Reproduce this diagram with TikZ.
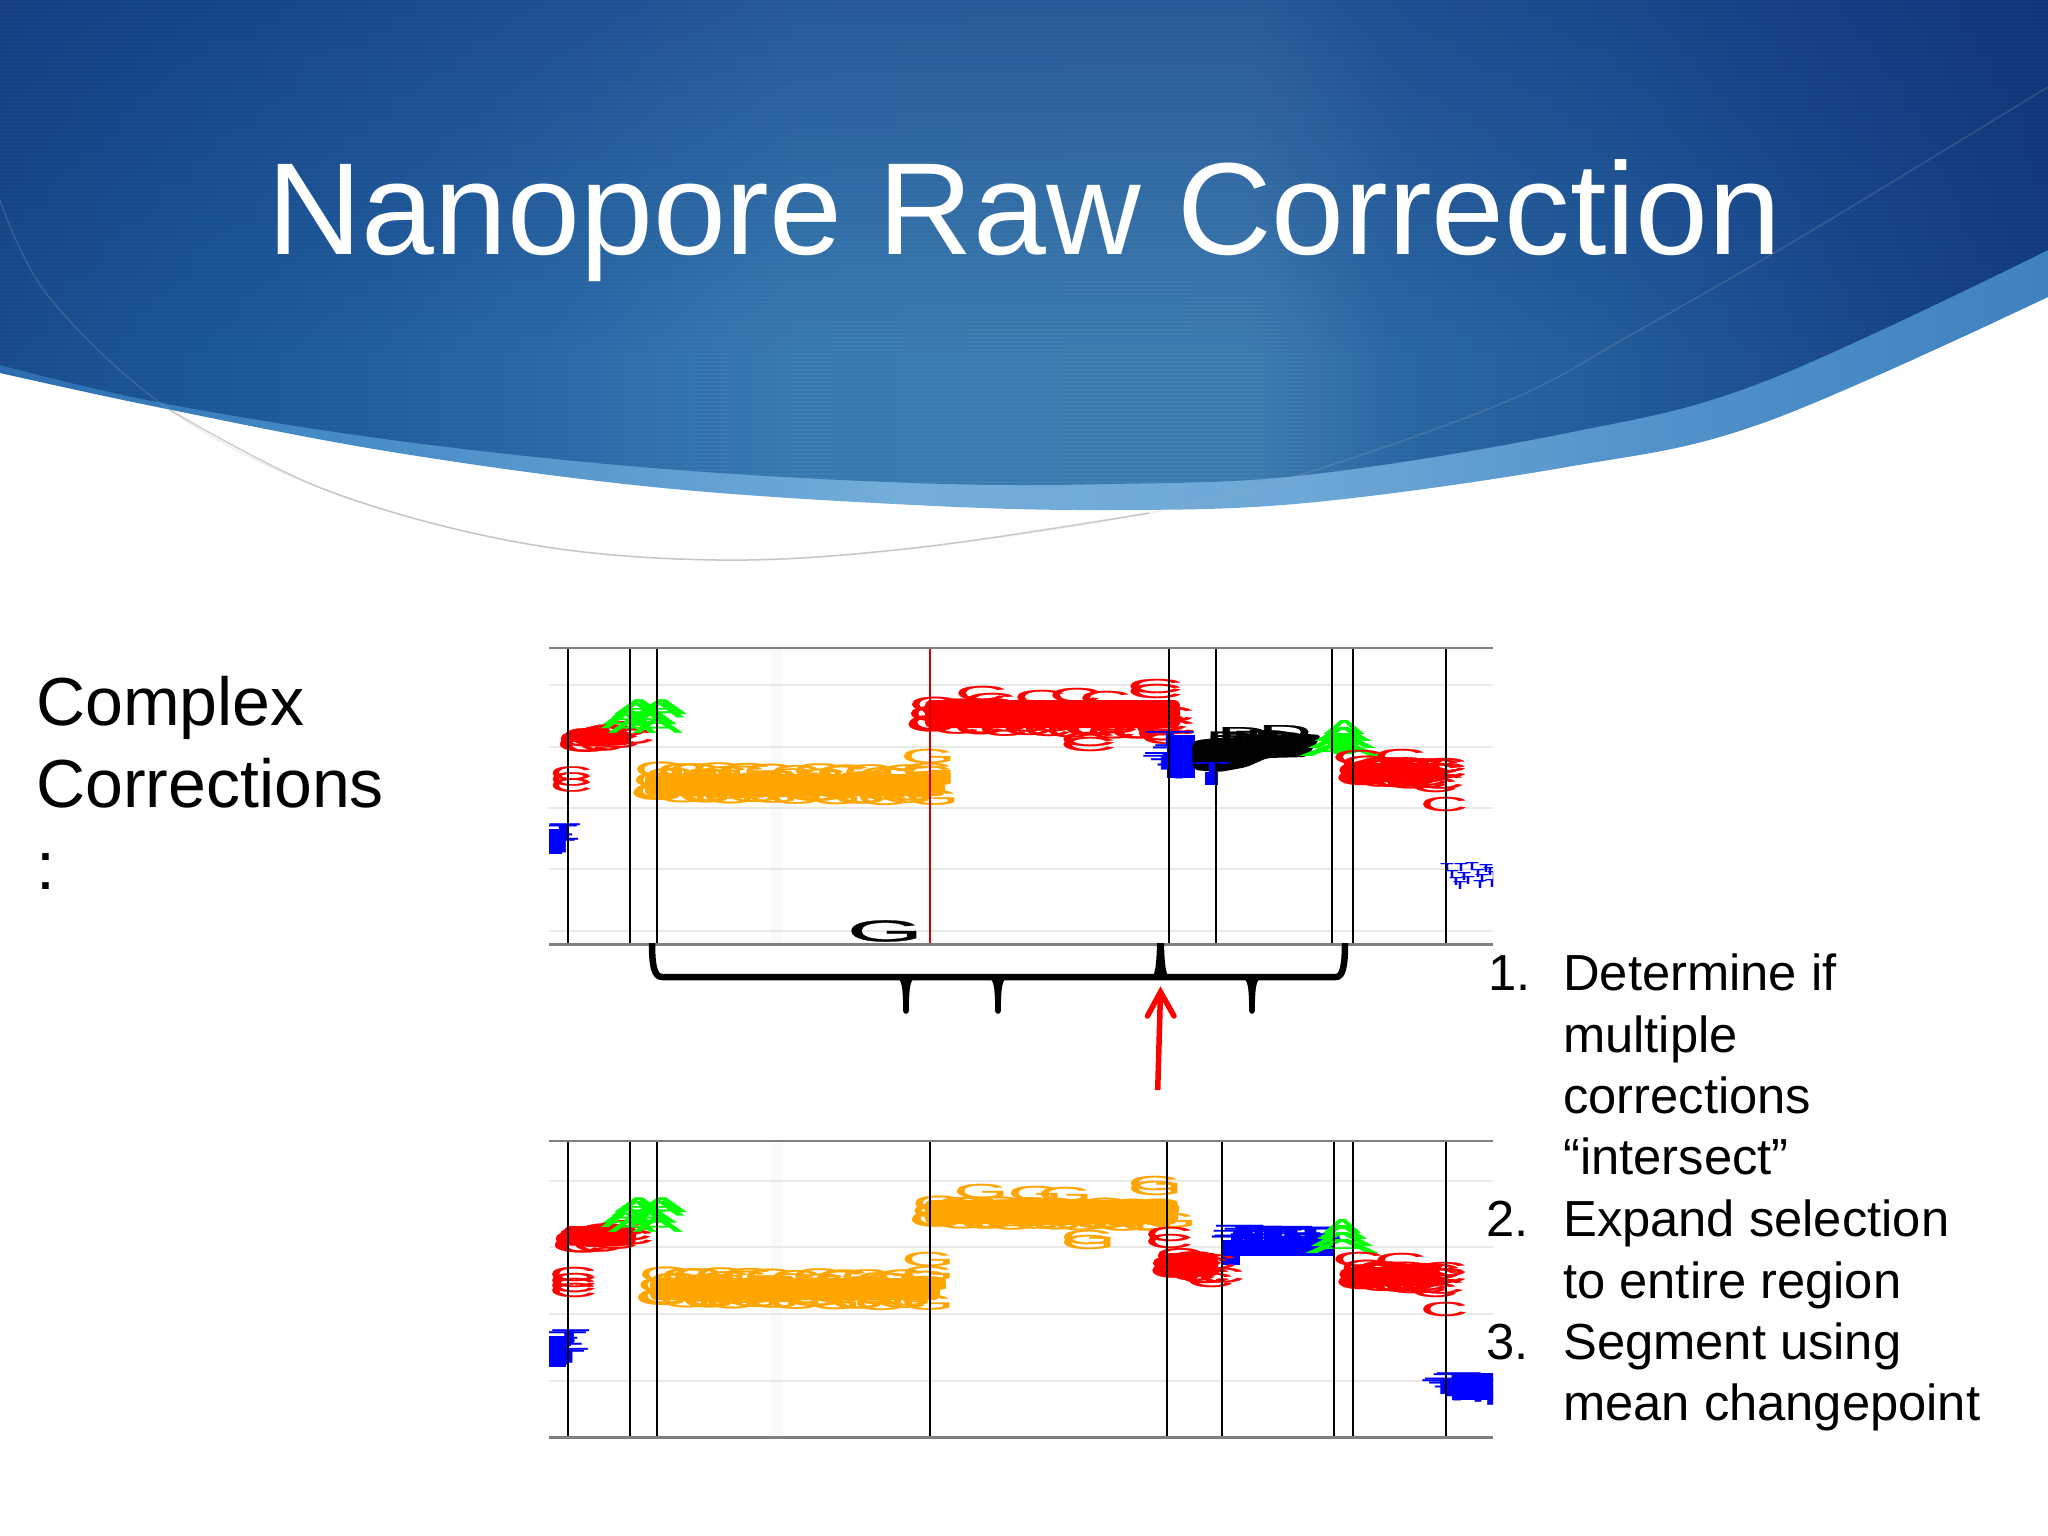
\documentclass[tikz,border=0pt]{standalone}
\usepackage{graphicx}
\usepackage{fontspec}
\setmainfont{Liberation Sans}
\font\mkfont="Liberation Sans:embolden=1.0" at 20pt
\definecolor{bA}{HTML}{1B4F8F}
\definecolor{bB}{HTML}{1D5A9C}
\definecolor{bC}{HTML}{2563A5}
\definecolor{bD}{HTML}{2F70AE}
\definecolor{bE}{HTML}{3B7FB6}
\definecolor{bF}{HTML}{3E80B5}
\definecolor{bG}{HTML}{4080B5}
\definecolor{bH}{HTML}{2D6AA8}
\definecolor{bI}{HTML}{24609F}
\definecolor{bJ}{HTML}{1D4F93}
\definecolor{bK}{HTML}{153F80}
\definecolor{lA}{HTML}{2A6CB0}
\definecolor{lB}{HTML}{4389C4}
\definecolor{lC}{HTML}{74ADD9}
\definecolor{lD}{HTML}{6EA8D6}
\definecolor{lE}{HTML}{4F90C9}
\definecolor{lF}{HTML}{3F82C0}
\definecolor{navyveil}{HTML}{10307A}
\definecolor{plotorange}{HTML}{FFA500}
\definecolor{plotgreen}{HTML}{00FF00}
\definecolor{plotblue}{HTML}{0000FF}
\definecolor{plotred}{HTML}{FF0000}
\definecolor{gridgrey}{HTML}{E8E8E8}
\definecolor{axisgrey}{HTML}{808080}
\definecolor{stripegrey}{HTML}{F9F9FC}
\pgfdeclarehorizontalshading{bgsh}{100bp}{color(0bp)=(bA);color(25bp)=(bA);color(29.9bp)=(bB);color(34.8bp)=(bC);color(39.6bp)=(bD);color(44.5bp)=(bE);color(49.4bp)=(bF);color(55.5bp)=(bG);color(59.2bp)=(bH);color(64.1bp)=(bI);color(69bp)=(bJ);color(75bp)=(bK);color(100bp)=(bK)}
\pgfdeclarehorizontalshading{bandsh}{100bp}{color(0bp)=(lA);color(25bp)=(lA);color(32.3bp)=(lB);color(47bp)=(lC);color(56.7bp)=(lD);color(66.5bp)=(lE);color(75bp)=(lF);color(100bp)=(lF)}
\tikzset{
  lettermark/.style={inner sep=0pt,outer sep=0pt,font=\mkfont},
  titletext/.style={inner sep=0pt,anchor=base west,text=white,font=\fontsize{131}{131}\selectfont},
  sidetext/.style={inner sep=0pt,anchor=base west,text=black,font=\fontsize{68}{68}\selectfont},
  listtext/.style={inner sep=0pt,anchor=base west,text=black,font=\fontsize{50.7}{50.7}\selectfont},
  gridline/.style={draw=gridgrey,line width=1.5pt},
  axisline/.style={draw=axisgrey,line width=3pt},
  axistop/.style={draw=axisgrey,line width=2pt},
  cutline/.style={draw=black,line width=2pt},
  bracestroke/.style={draw=black,line width=6.5pt,line join=round},
  redarrow/.style={draw=plotred,line width=5.5pt},
}
\newcounter{mkc}
% colour, letter, x, y, xscale, yscale
\newcommand\mkl[6]{\stepcounter{mkc}\node[lettermark,text=#1] (m\themkc) at (#3,#4) {\scalebox{#5}[#6]{#2}};}
% colour, letter, x0,y0,x1,y1, amp, n, xscale
\newcommand\mkblob[9]{%
  \foreach \i in {1,...,#8}{%
    \pgfmathsetmacro\mkt{(\i-1)/max(#8-1,1)}%
    \pgfmathsetmacro\mkx{#3+(#5-#3)*\mkt+7*sin(\i*73)}%
    \pgfmathsetmacro\mky{#4+(#6-#4)*\mkt+#7*sin(\i*137.5)}%
    \mkl{#1}{#2}{\mkx}{\mky}{#9}{1.05}%
  }%
}
\newcommand\mkcore[5]{\fill[#1,rounded corners=6pt] (#2,#3) rectangle (#4,#5);}
\newcommand\mkrect[5]{\fill[#1] (#2,#3) rectangle (#4,#5);}
\newcommand\bracetick[3]{\fill[black] (#1-7.5,#2) .. controls (#1-3.5,#2+3) and (#1-3,#2+14) .. (#1-2.8,#3-2) arc[start angle=180,end angle=0,radius=2.8] .. controls (#1+3,#2+14) and (#1+3.5,#2+3) .. (#1+7.5,#2) -- cycle;}
\begin{document}
\begin{tikzpicture}[x=1pt,y=-1pt]
\useasboundingbox (0,0) rectangle (2048,1536);
\fill[white] (0,0) rectangle (2048,1536);
% ---- header
\begin{scope}
\clip (0,0) -- plot[smooth,tension=.6] coordinates {(0,373) (157,407) (392,452) (653,487) (914,505) (1110,510) (1306,503) (1567,467) (1763,423) (2048,297)} -- (2048,0) -- cycle;
\shade[shading=bandsh] (0,0) rectangle (2048,520);
\end{scope}
\begin{scope}
\clip (0,0) -- plot[smooth,tension=.6] coordinates {(0,365) (157,402) (392,440) (653,468) (914,483) (1110,484) (1306,475) (1567,433) (1763,382) (2048,250)} -- (2048,0) -- cycle;
\shade[shading=bgsh] (0,0) rectangle (2048,520);
\foreach \k in {0,...,24}{
  \pgfmathsetmacro\op{0.42*(1-\k/25)}
  \fill[navyveil,opacity=\op] (0,\k*14) rectangle (2048,\k*14+14);
}
\foreach \k in {0,...,125}{
  \draw[black,opacity=.05,line width=1.5pt] (0,\k*4) -- (2048,\k*4);
}
\end{scope}
\draw[draw=black!30,opacity=.2,line width=1.5pt] plot[smooth,tension=.6] coordinates {(0,200) (49,297) (170,410) (326,490) (522,543) (718,560) (914,548) (1149,513) (1306,473) (1510,400) (1634,333) (1796,240) (2048,87)};
\draw[draw=black!35,opacity=.55,line width=1.5pt] plot[smooth,tension=.6] coordinates {(170,410) (326,490) (522,543) (718,560) (914,548) (1149,513)};
\node[titletext] (title) at (267,254) {Nanopore Raw Correction};
% ---- left text
\node[sidetext] (s1) at (36,725) {Complex};
\node[sidetext] (s2) at (36,807) {Corrections};
\node[sidetext] (s3) at (36,889) {:};
% ---- list
\node[listtext] (n1) at (1488,990) {1.};
\node[listtext] (l1) at (1563,990) {Determine if};
\node[listtext] (l2) at (1563,1052) {multiple};
\node[listtext] (l3) at (1563,1113) {corrections};
\node[listtext] (l4) at (1563,1174) {“intersect”};
\node[listtext] (n2) at (1486,1236) {2.};
\node[listtext] (l5) at (1563,1236) {Expand selection};
\node[listtext] (l6) at (1563,1298) {to entire region};
\node[listtext] (n3) at (1486,1359) {3.};
\node[listtext] (l7) at (1563,1359) {Segment using};
\node[listtext] (l8) at (1563,1420) {mean changepoint};
% ---- top panel
\fill[stripegrey] (771,650) rectangle (783,942);
\fill[stripegrey] (771,1143) rectangle (783,1435);
\foreach \y in {685,747,808,869,931}{\draw[gridline] (549,\y) -- (1493,\y);}
\begin{scope}
\clip (549,645) rectangle (1493,946);
\mkcore{plotred}{575}{731}{630}{744}
\mkblob{plotred}{C}{579}{741}{624}{733}{5}{16}{3.3}
\mkl{plotred}{C}{571}{773}{2.9}{.95}
\mkl{plotred}{C}{571}{779}{2.9}{.95}
\mkl{plotred}{C}{571}{785}{2.9}{.95}
\mkrect{plotblue}{549}{832}{562}{854}
\mkblob{plotblue}{T}{558}{830}{556}{847}{1}{7}{2.6}
\mkblob{plotgreen}{A}{632}{706}{632}{726}{1}{5}{3.6}
\mkblob{plotgreen}{A}{655}{706}{657}{726}{1}{5}{3.7}
\mkcore{plotorange}{645}{774}{945}{796}
\mkblob{plotorange}{G}{652}{782}{932}{785}{13}{62}{3.4}
\mkl{plotorange}{G}{928}{756}{3.5}{1}
\mkl{plotorange}{G}{928}{770}{3.5}{1}
\mkcore{plotred}{925}{700}{1180}{728}
\mkblob{plotred}{C}{925}{715}{1172}{722}{11}{54}{3.4}
\mkl{plotred}{C}{981}{693}{3.6}{1}
\mkl{plotred}{C}{990}{700}{3.6}{1}
\mkl{plotred}{C}{1040}{697}{3.6}{1}
\mkl{plotred}{C}{1075}{695}{3.6}{1}
\mkl{plotred}{C}{1105}{698}{3.6}{1}
\mkl{plotred}{C}{1155}{686}{3.9}{1}
\mkl{plotred}{C}{1155}{691}{3.9}{1}
\mkl{plotred}{C}{1088}{739}{3.9}{1}
\mkl{plotred}{C}{1088}{744}{3.9}{1}
\mkl{plotred}{C}{1168}{737}{3.9}{1}
\mkl{plotred}{C}{1168}{727}{3.9}{1}
\mkrect{plotblue}{1167}{735}{1195}{778}
\mkl{plotblue}{T}{1170}{738}{4.1}{1}
\mkblob{plotblue}{T}{1170}{751}{1172}{770}{1}{6}{3.7}
\fill[black,rounded corners=5pt] (1192,743) -- (1197,740) -- (1217,738) -- (1307,734) -- (1322,735) -- (1307,757) -- (1267,758) -- (1247,767) -- (1220,772) -- (1193,770) -- cycle;
\mkblob{black}{D}{1222}{744}{1290}{741}{5}{14}{3.6}
\mkl{black}{D}{1243}{734}{3.6}{1}
\mkl{black}{D}{1285}{732}{3.7}{1}
\mkrect{plotblue}{1205}{772}{1218}{785}
\mkl{plotblue}{T}{1212}{769}{3}{1}
\mkcore{plotgreen}{1330}{733}{1358}{754}
\mkl{plotgreen}{A}{1344}{727}{3}{1}
\mkl{plotgreen}{A}{1343}{734}{4.2}{1}
\mkl{plotgreen}{A}{1342}{741}{5}{1}
\mkl{plotgreen}{A}{1341}{749}{6.2}{1}
\mkcore{plotred}{1342}{763}{1440}{782}
\mkblob{plotred}{C}{1358}{771}{1442}{774}{8}{28}{3.4}
\mkl{plotred}{C}{1358}{757}{3.6}{1}
\mkl{plotred}{C}{1400}{756}{3.6}{1}
\mkl{plotred}{C}{1442}{765}{3.5}{1}
\mkl{plotred}{C}{1434}{785}{3.3}{1}
\mkl{plotred}{C}{1444}{804}{3.3}{1}
\foreach \a/\b in {1447/867,1461/867,1472/866,1486/868,1452/874,1464/876,1478/873,1490/871,1456/881,1468/880,1482/878,1494/875,1460/885,1480/884,1492/883}{
  \mkl{plotblue}{T}{\a}{\b}{1.1}{.55}
}
\end{scope}
\foreach \x in {568,630,657,1169,1216,1332,1353,1446}{\draw[cutline] (\x,648) -- (\x,944);}
\draw[draw=red!80!black,line width=1.6pt] (930,648) -- (930,944);
\node[lettermark,text=black] (bigG) at (885,931) {\scalebox{4.9}[1.5]{G}};
\draw[axistop] (549,648) -- (1493,648);
\draw[axisline] (549,944) -- (1493,944);
% ---- bottom panel
\foreach \y in {1181,1247,1314,1381}{\draw[gridline] (549,\y) -- (1493,\y);}
\begin{scope}
\clip (549,1138) rectangle (1493,1439);
\mkcore{plotred}{564}{1226}{636}{1245}
\mkblob{plotred}{C}{575}{1241}{628}{1232}{6}{18}{3.5}
\mkl{plotred}{C}{573}{1274}{3.3}{1}
\mkl{plotred}{C}{573}{1280}{3.3}{1}
\mkl{plotred}{C}{573}{1285}{3.3}{1}
\mkl{plotred}{C}{573}{1290}{3.3}{1}
\mkrect{plotblue}{549}{1336}{566}{1367}
\mkblob{plotblue}{T}{564}{1336}{562}{1358}{1}{7}{3.2}
\mkblob{plotgreen}{A}{632}{1204}{632}{1225}{1}{5}{3.6}
\mkblob{plotgreen}{A}{655}{1204}{657}{1225}{1}{5}{3.7}
\mkcore{plotorange}{650}{1278}{940}{1300}
\mkblob{plotorange}{G}{657}{1287}{927}{1290}{13}{62}{3.4}
\mkl{plotorange}{G}{928}{1259}{3.4}{1}
\mkl{plotorange}{G}{928}{1273}{3.4}{1}
\mkcore{plotorange}{925}{1200}{1178}{1224}
\mkblob{plotorange}{G}{930}{1212}{1165}{1215}{9}{50}{3.4}
\mkl{plotorange}{G}{981}{1191}{3.5}{1}
\mkl{plotorange}{G}{1035}{1193}{3.5}{1}
\mkl{plotorange}{G}{1065}{1194}{3.5}{1}
\mkl{plotorange}{G}{1155}{1183}{3.5}{1}
\mkl{plotorange}{G}{1155}{1188}{3.5}{1}
\mkl{plotorange}{G}{1088}{1237}{3.5}{1}
\mkl{plotorange}{G}{1088}{1242}{3.5}{1}
\mkl{plotred}{C}{1169}{1234}{3.3}{1}
\mkl{plotred}{C}{1169}{1241}{3.3}{1}
\mkrect{plotblue}{1222}{1250}{1240}{1265}
\mkcore{plotred}{1160}{1253}{1218}{1276}
\mkblob{plotred}{C}{1172}{1263}{1214}{1270}{8}{16}{3.3}
\mkl{plotred}{C}{1210}{1280}{3.3}{1}
\mkrect{plotblue}{1222}{1240}{1333}{1256}
\mkblob{plotblue}{T}{1232}{1238}{1322}{1240}{6}{24}{4.1}
\mkl{plotgreen}{A}{1342}{1226}{2.8}{1}
\mkl{plotgreen}{A}{1342}{1232}{3.7}{1}
\mkl{plotgreen}{A}{1342}{1239}{4.6}{1}
\mkl{plotgreen}{A}{1342}{1246}{5.4}{1}
\mkcore{plotred}{1342}{1267}{1440}{1286}
\mkblob{plotred}{C}{1358}{1275}{1442}{1279}{8}{28}{3.4}
\mkl{plotred}{C}{1358}{1259}{3.6}{1}
\mkl{plotred}{C}{1400}{1260}{3.6}{1}
\mkl{plotred}{C}{1442}{1269}{3.5}{1}
\mkl{plotred}{C}{1434}{1290}{3.3}{1}
\mkl{plotred}{C}{1444}{1309}{3.3}{1}
\mkrect{plotblue}{1452}{1373}{1494}{1400}
\mkblob{plotblue}{T}{1452}{1379}{1450}{1392}{1}{6}{3.8}
\mkblob{plotblue}{T}{1468}{1384}{1490}{1398}{1}{5}{3.2}
\end{scope}
\foreach \x in {568,630,657,930,1167,1222,1334,1353,1446}{\draw[cutline] (\x,1141) -- (\x,1437);}
\draw[axistop] (549,1141) -- (1493,1141);
\draw[axisline] (549,1437) -- (1493,1437);
% ---- brace
\coordinate (bl) at (652,943);
\coordinate (br) at (1345,943);
\draw[bracestroke] (bl) .. controls (652,965) and (654,977) .. (662,977) -- (1336,977) .. controls (1343,977) and (1345,965) .. (br);
\fill[black] (1157,943) -- (1164,943) .. controls (1164.5,960) and (1165,968) .. (1167.5,975) -- (1153.5,975) .. controls (1156,968) and (1156.5,960) .. (1157,943) -- cycle;
\bracetick{906}{979}{1013}
\bracetick{998}{979}{1013}
\bracetick{1252}{979}{1013}
% ---- arrow
\coordinate (atail) at (1157.7,1090);
\coordinate (atip) at (1160.5,992);
\coordinate (abl) at (1147.5,1016);
\coordinate (abr) at (1174,1016);
\draw[redarrow] (atail) -- (atip);
\draw[redarrow,line cap=round,line join=miter] (abl) -- (atip) -- (abr);
\end{tikzpicture}
\end{document}
